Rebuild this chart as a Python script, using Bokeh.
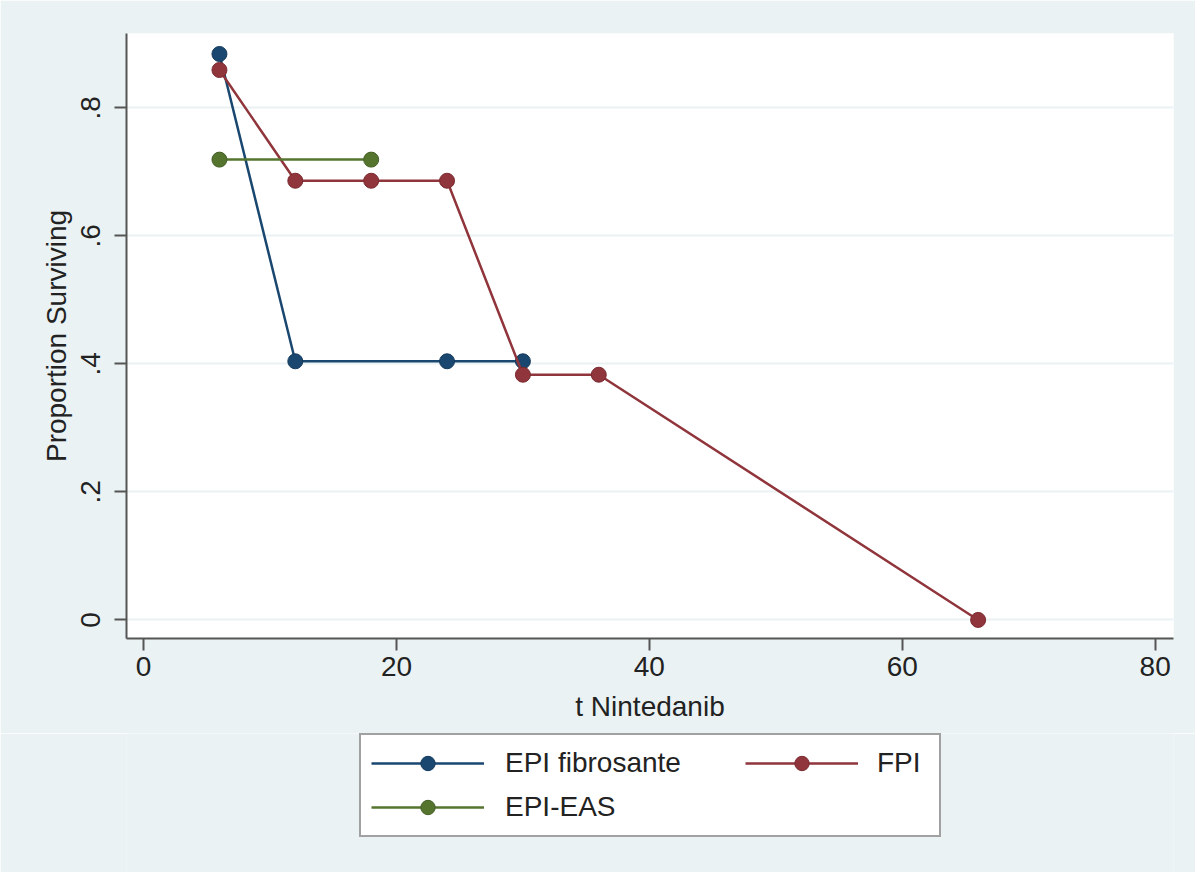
from bokeh.plotting import figure
from bokeh.models import Legend, LegendItem, FixedTicker, Range1d
from bokeh.layouts import column
from bokeh.embed import file_html
from bokeh.resources import INLINE

# --- data ---
t_epi = [6, 12, 24, 30]
s_epi = [0.884, 0.404, 0.404, 0.404]
t_fpi = [6, 12, 18, 24, 30, 36, 66]
s_fpi = [0.859, 0.686, 0.686, 0.686, 0.383, 0.383, 0.0]
t_eas = [6, 18]
s_eas = [0.719, 0.719]

x_ticks = [0, 20, 40, 60, 80]
y_ticks = [0, 0.2, 0.4, 0.6, 0.8]
y_tick_labels = ["0", ".2", ".4", ".6", ".8"]

names = ["EPI fibrosante", "FPI", "EPI-EAS"]
colors = ["#1a476f", "#90353b", "#55752f"]
edges = ["#143a5c", "#7a2a30", "#456026"]

BG = "#eaf2f3"
FONT = "Liberation Sans"
TXT = "#222222"
AX = "#555555"
W = 1195

p = figure(width=W, height=733, output_backend="svg", toolbar_location=None,
           x_range=Range1d(-1.35, 81.45), y_range=Range1d(-0.029, 0.916),
           min_border_left=126, min_border_right=22, min_border_top=33,
           min_border_bottom=95,
           background_fill_color="white", border_fill_color=BG)
p.outline_line_color = None

p.xaxis.ticker = FixedTicker(ticks=x_ticks)
p.yaxis.ticker = FixedTicker(ticks=y_ticks)
p.yaxis.major_label_overrides = dict(zip(y_ticks, y_tick_labels))
p.yaxis.major_label_orientation = "vertical"

for ax in (p.xaxis[0], p.yaxis[0]):
    ax.axis_line_color = AX
    ax.axis_line_width = 2
    ax.major_tick_line_color = AX
    ax.major_tick_line_width = 2
    ax.major_tick_out = 12
    ax.major_tick_in = 0
    ax.minor_tick_line_color = None
    ax.major_label_text_font = FONT
    ax.major_label_text_font_size = "28px"
    ax.major_label_text_color = TXT
    ax.axis_label_text_font = FONT
    ax.axis_label_text_font_size = "28px"
    ax.axis_label_text_font_style = "normal"
    ax.axis_label_text_color = TXT

p.xaxis.axis_label = "t Nintedanib"
p.yaxis.axis_label = "Proportion Surviving"
p.xaxis.major_label_standoff = 6
p.xaxis.axis_label_standoff = 12
p.yaxis.major_label_standoff = 14
p.yaxis.axis_label_standoff = 7

p.xgrid.grid_line_color = None
p.ygrid.grid_line_color = BG
p.ygrid.grid_line_width = 2

series = [(t_epi, s_epi), (t_fpi, s_fpi), (t_eas, s_eas)]
for (t, s), c, dc in zip(series, colors, edges):
    p.line(t, s, line_color=c, line_width=2.5)
    p.scatter(t, s, size=15, fill_color=c, line_color=dc, line_width=1)

# --- legend panel (separate figure below so the legend is not clipped) ---
# its ranges lie outside the data, so only the legend is visible there
p2 = figure(width=W, height=872 - 733, output_backend="svg", toolbar_location=None,
            x_range=Range1d(-3, -2), y_range=Range1d(-3, -2),
            x_axis_type=None, y_axis_type=None,
            min_border_left=0, min_border_right=0, min_border_top=0, min_border_bottom=0,
            background_fill_color=BG, border_fill_color=BG)
p2.outline_line_color = None
p2.xgrid.visible = False
p2.ygrid.visible = False

leg_r = []
for (t, s), c, dc in zip(series, colors, edges):
    l = p2.line(t, s, line_color=c, line_width=2.5)
    m = p2.scatter(t, s, size=15, fill_color=c, line_color=dc, line_width=1)
    leg_r.append([l, m])

common = dict(glyph_width=113, glyph_height=36, label_height=30, margin=0,
              label_text_font=FONT, label_text_font_size="28px",
              label_text_color=TXT)

FL = 126  # frame left of the aligned column
legend1 = Legend(items=[LegendItem(label=names[0], renderers=leg_r[0]),
                        LegendItem(label=names[2], renderers=leg_r[2])],
                 location=(359 - FL, 35), orientation="vertical", padding=10, spacing=8,
                 label_standoff=21, label_width=424,
                 border_line_color="#444444", border_line_width=2,
                 background_fill_color="white", background_fill_alpha=1.0, **common)
legend2 = Legend(items=[LegendItem(label=names[1], renderers=leg_r[1])],
                 location=(745 - FL, 91), orientation="vertical", padding=0, spacing=0,
                 label_standoff=19, border_line_color=None, background_fill_alpha=0.0,
                 **common)
p2.add_layout(legend1, "center")
p2.add_layout(legend2, "center")

layout = column(p, p2, spacing=0)
open("out.html", "w").write(file_html(layout, INLINE))
